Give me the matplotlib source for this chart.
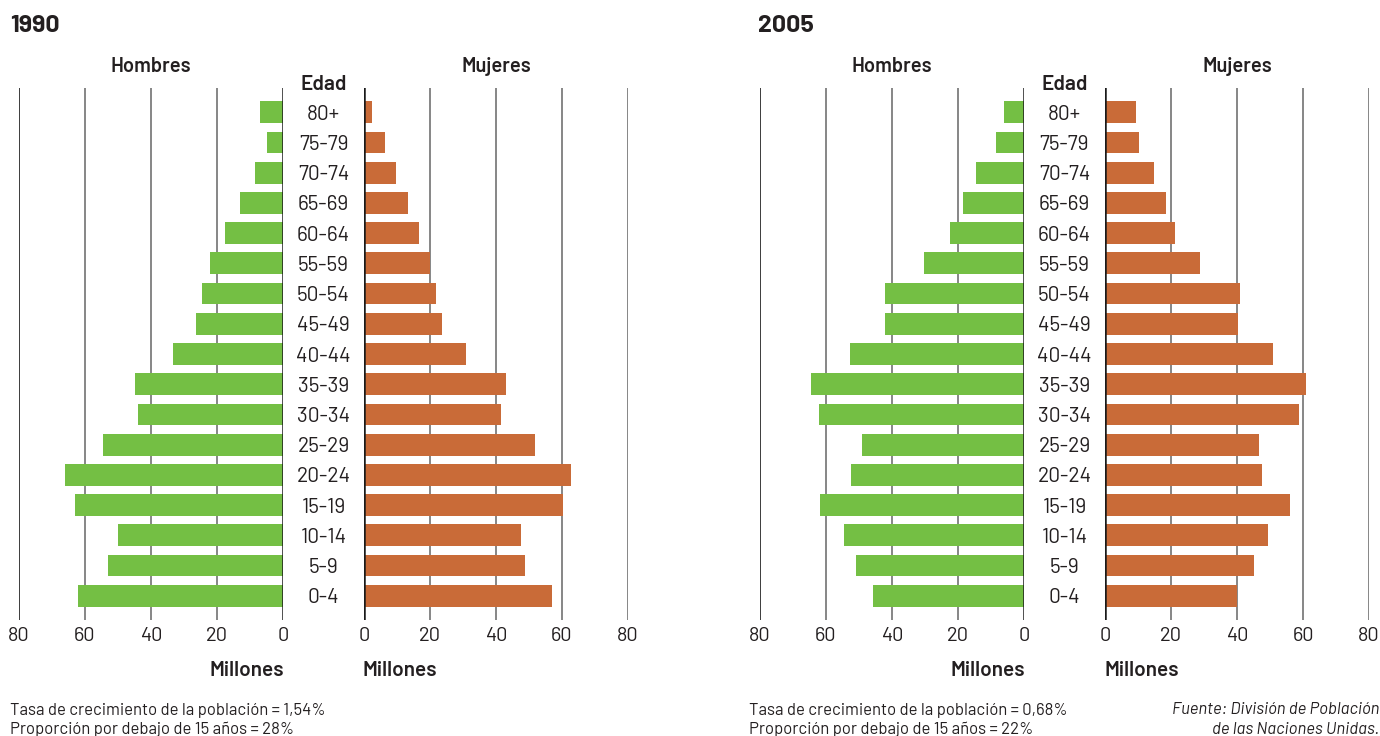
import matplotlib
matplotlib.use('Agg')
import matplotlib.pyplot as plt
from matplotlib import font_manager
from matplotlib.transforms import blended_transform_factory

nombres = {f.name for f in font_manager.fontManager.ttflist}
candidatas = ['D-DIN', 'DIN Alternate', 'Barlow', 'Barlow Semi Condensed',
              'Roboto Condensed', 'DejaVu Sans Condensed', 'Roboto']
fuente = next((c for c in candidatas if c in nombres), 'DejaVu Sans')
plt.rcParams['font.family'] = [fuente, 'DejaVu Sans']

edades = ['0-4', '5-9', '10-14', '15-19', '20-24', '25-29', '30-34', '35-39',
          '40-44', '45-49', '50-54', '55-59', '60-64', '65-69', '70-74',
          '75-79', '80+']

# millones, de 0-4 a 80+
hombres_1990 = [62, 53, 50, 63, 66, 54.5, 44, 44.8, 33.3, 26.4, 24.5, 22,
                17.6, 13, 8.5, 4.8, 7]
mujeres_1990 = [57, 48.8, 47.6, 60.3, 62.7, 51.8, 41.5, 43, 30.9, 23.6, 21.8,
                20, 16.7, 13.3, 9.7, 6.4, 2.3]
hombres_2005 = [45.8, 51, 54.4, 61.7, 52.5, 49.2, 62, 64.4, 52.8, 42.1, 42.1,
                30.2, 22.3, 18.6, 14.4, 8.5, 6.1]
mujeres_2005 = [40, 45, 49.3, 56.2, 47.7, 46.8, 58.7, 61, 50.8, 40.2, 40.8,
                28.9, 21.2, 18.5, 14.8, 10.3, 9.3]

ticks = [0, 20, 40, 60, 80]

verde = '#74BF44'
naranja = '#C96B38'
texto = '#231F20'
peso = 'semibold'

W, H = 1380, 736
fig = plt.figure(figsize=(13.8, 7.36), dpi=100)


def fx(px):
    return px / W


def fy(py):
    return 1 - py / H


def piramide(x_h, x_m, ancho, hombres, mujeres, anio, x_tit, x_txt, tasa,
             prop):
    y_top, y_bot = 88, 620
    rect_h = [fx(x_h), fy(y_bot), fx(ancho), (y_bot - y_top) / H]
    rect_m = [fx(x_m), fy(y_bot), fx(ancho), (y_bot - y_top) / H]
    ax_h = fig.add_axes(rect_h)
    ax_m = fig.add_axes(rect_m)
    pos = range(len(edades))
    ax_h.barh(pos, hombres, height=0.72, color=verde, zorder=3)
    ax_m.barh(pos, mujeres, height=0.72, color=naranja, zorder=3)
    ax_h.set_xlim(80, 0)
    ax_m.set_xlim(0, 80)
    for ax in (ax_h, ax_m):
        ax.set_ylim(-0.8, 16.8)
        ax.set_xticks(ticks)
        ax.set_yticks([])
        for s in ax.spines.values():
            s.set_visible(False)
        ax.tick_params(axis='x', length=0, pad=5, labelsize=14.5,
                       labelcolor=texto)
        for t in ticks[1:]:
            ax.axvline(t, color='#666666', lw=1.1, zorder=1)
        ax.axvline(0, color='#1a1a1a', lw=1.8, zorder=4)
        ax.patch.set_alpha(0)
    ax_h.axvline(80, color='#333333', lw=1.2, zorder=1)

    # etiquetas de edad en el centro
    xc = (x_h + ancho + x_m) / 2
    tr = blended_transform_factory(fig.transFigure, ax_m.transData)
    for i, e in enumerate(edades):
        ax_m.text(fx(xc), i, e, transform=tr, ha='center',
                  va='center_baseline', fontsize=15, color=texto)
    fig.text(fx(xc), fy(84), 'Edad', ha='center', va='center', fontsize=15,
             fontweight=peso, color=texto)
    fig.text(fx(x_h + ancho / 2), fy(67), 'Hombres', ha='center',
             va='center', fontsize=14.5, fontweight=peso, color=texto)
    fig.text(fx(x_m + ancho / 2), fy(67), 'Mujeres', ha='center',
             va='center', fontsize=14.5, fontweight=peso, color=texto)
    fig.text(fx(x_h + ancho + 1), fy(670), 'Millones', ha='right',
             va='center', fontsize=15, fontweight=peso, color=texto)
    fig.text(fx(x_m - 1), fy(670), 'Millones', ha='left', va='center',
             fontsize=15, fontweight=peso, color=texto)
    fig.text(fx(x_tit), fy(26), anio, ha='left', va='center', fontsize=18,
             fontweight='bold', color=texto)
    fig.text(fx(x_txt), fy(710), tasa, ha='left', va='center',
             fontsize=12, color=texto)
    fig.text(fx(x_txt), fy(729), prop, ha='left', va='center',
             fontsize=12, color=texto)


piramide(19, 364, 264, hombres_1990, mujeres_1990, '1990', 10, 10,
         'Tasa de crecimiento de la población = 1,54%',
         'Proporción por debajo de 15 años = 28%')
piramide(760, 1105, 264, hombres_2005, mujeres_2005, '2005', 758, 749,
         'Tasa de crecimiento de la población = 0,68%',
         'Proporción por debajo de 15 años = 22%')

fig.text(fx(1379), fy(710), 'Fuente: División de Población', ha='right',
         va='center', fontsize=12, style='italic', color=texto)
fig.text(fx(1379), fy(729), 'de las Naciones Unidas.', ha='right',
         va='center', fontsize=12, style='italic', color=texto)

fig.savefig('out.png', dpi=100)
